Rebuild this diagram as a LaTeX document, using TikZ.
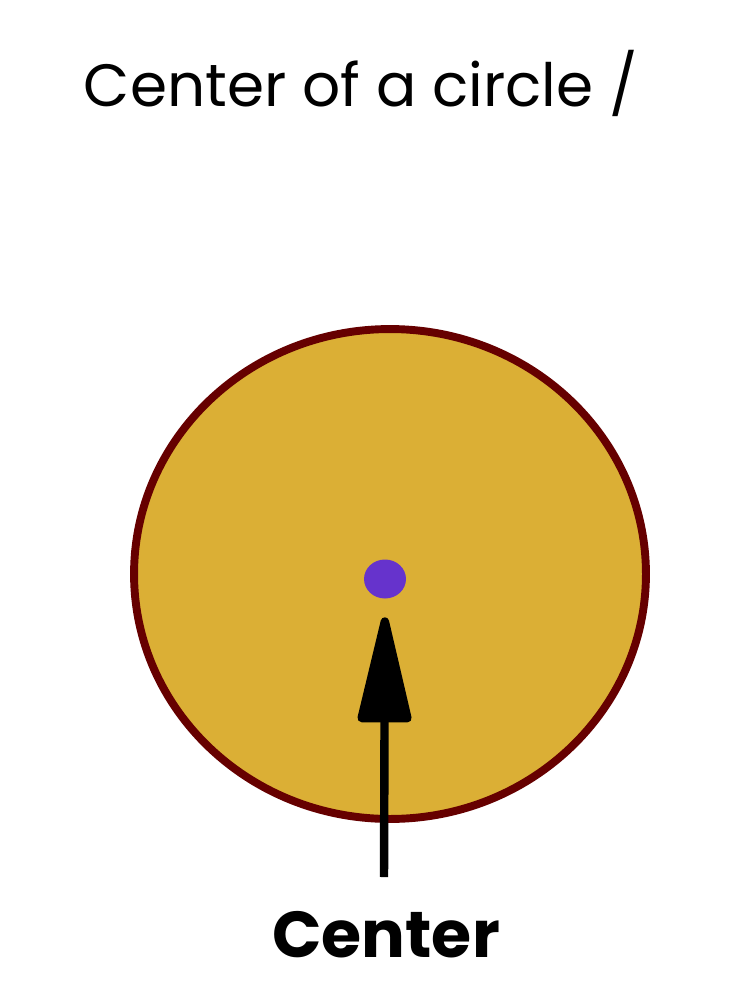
\documentclass[tikz,border=0pt]{standalone}
\usepackage{fontspec}
\setmainfont{Poppins}
\usetikzlibrary{shapes.geometric,arrows.meta}
\definecolor{discfill}{HTML}{DBAF35}
\definecolor{discline}{HTML}{660000}
\definecolor{dotpurple}{HTML}{6633CC}
\tikzset{
  disc/.style={ellipse, draw=discline, fill=discfill, line width=4.5pt, inner sep=0pt},
  centerdot/.style={ellipse, fill=dotpurple, inner sep=0pt},
  pointer/.style={line width=4.8pt, -{Triangle[length=2.4cm,width=1.08cm,round]}}
}
\begin{document}
\begin{tikzpicture}[x=0.02cm, y=-0.02cm]
        \useasboundingbox (0,0) rectangle (751,1003);

        % Titel
        \node[anchor=base, font=\fontsize{34}{40}\selectfont] (title) at (361,107) {Center of a circle /};

        % Kreis mit Mittelpunkt
        \node[disc, minimum width=10.24cm, minimum height=9.8cm] (circ) at (390,574) {};
        \node[centerdot, minimum width=0.84cm, minimum height=0.78cm] (dot) at (385,579) {};

        % Pfeil und Beschriftung
        \coordinate (tail) at (384,877);
        \draw[pointer, shorten >=0.37cm] (tail) -- (dot);
        \node[anchor=base, font=\fontsize{37}{44}\selectfont\bfseries] (label) at (386,957) {Center};
    \end{tikzpicture}
\end{document}
